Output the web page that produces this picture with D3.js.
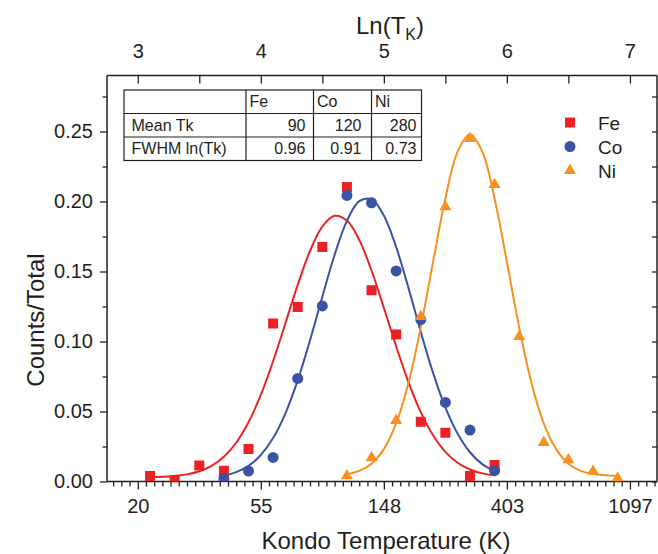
<!DOCTYPE html>
<html>
<head>
<meta charset="utf-8">
<script src="https://cdn.jsdelivr.net/npm/d3@7"></script>
<style>
  html, body { margin: 0; padding: 0; background: #fff; }
  svg { display: block; }
  text { font-family: "Liberation Sans", Arial, Helvetica, sans-serif; fill: #231f20; }
</style>
</head>
<body>
<svg id="chart" width="658" height="554"></svg>
<script>
// ---------- data ----------
const lnTicks = [3, 4, 5, 6, 7];
const tempTickLabels = ["20", "55", "148", "403", "1097"];
const yTickValues = [0, 0.05, 0.10, 0.15, 0.20, 0.25];

const seriesNames = ["Fe", "Co", "Ni"];
const seriesColors = ["#ed2024", "#3a53a4", "#f7901e"];

const feX = [3.1, 3.3, 3.5, 3.7, 3.9, 4.1, 4.3, 4.5, 4.7, 4.9, 5.1, 5.3, 5.5, 5.7, 5.9];
const feY = [0.004, 0.001, 0.0115, 0.0077, 0.0232, 0.1128, 0.1247, 0.1675, 0.2103, 0.1366, 0.105, 0.0427, 0.0348, 0.0039, 0.0118];

const coX = [3.7, 3.9, 4.1, 4.3, 4.5, 4.7, 4.9, 5.1, 5.3, 5.5, 5.7, 5.9];
const coY = [0.002, 0.0075, 0.0172, 0.0736, 0.1254, 0.2043, 0.1991, 0.1504, 0.1157, 0.0565, 0.0367, 0.0077];

const niX = [4.7, 4.9, 5.1, 5.3, 5.5, 5.7, 5.9, 6.1, 6.3, 6.5, 6.7, 6.9];
const niY = [0.004, 0.017, 0.0436, 0.1178, 0.1962, 0.2449, 0.2121, 0.1035, 0.0279, 0.0155, 0.0072, 0.0024];

// fitted curves
const feCurveX = [3.1,3.2,3.3,3.4,3.5,3.6,3.7,3.8,3.9,4.0,4.1,4.2,4.3,4.4,4.5,4.6,4.7,4.8,4.9,5.0,5.1,5.2,5.3,5.4,5.5,5.6,5.7,5.8,5.9];
const feCurveY = [0.0032,0.0034,0.0040,0.0051,0.0073,0.0112,0.0177,0.0277,0.0423,0.0618,0.0859,0.1130,0.1404,0.1647,0.1821,0.1898,0.1864,0.1726,0.1507,0.1241,0.0965,0.0710,0.0495,0.0330,0.0212,0.0134,0.0086,0.0058,0.0044];

const coCurveX = [3.7,3.8,3.9,4.0,4.1,4.2,4.3,4.4,4.5,4.6,4.7,4.8,4.9,5.0,5.1,5.2,5.3,5.4,5.5,5.6,5.7,5.8,5.9];
const coCurveY = [0.0042,0.0067,0.0112,0.0189,0.0310,0.0487,0.0722,0.1008,0.1320,0.1620,0.1862,0.2003,0.2016,0.1900,0.1675,0.1383,0.1069,0.0776,0.0529,0.0341,0.0209,0.0124,0.0074];

const niCurveX = [4.7,4.8,4.9,5.0,5.1,5.2,5.3,5.4,5.5,5.6,5.7,5.8,5.9,6.0,6.1,6.2,6.3,6.4,6.5,6.6,6.7,6.8,6.9];
const niCurveY = [0.0053,0.0076,0.0127,0.0231,0.0415,0.0704,0.1101,0.1568,0.2022,0.2356,0.2480,0.2356,0.2022,0.1568,0.1101,0.0704,0.0415,0.0231,0.0127,0.0076,0.0053,0.0045,0.0041];

const tableHeader = ["", "Fe", "Co", "Ni"];
const tableRowLabels = ["Mean Tk", "FWHM ln(Tk)"];
const tableMeanTk = ["90", "120", "280"];
const tableFwhm = ["0.96", "0.91", "0.73"];

// ---------- layout ----------
const W = 658, H = 554;
const pLeft = 107, pRight = 657, pTop = 75.5, pBottom = 481.5;
const ink = "#231f20";

const svg = d3.select("#chart");
svg.append("rect").attr("width", W).attr("height", H).attr("fill", "#fff");

const x = d3.scaleLinear().domain([2.75, 7.22]).range([pLeft, pRight]);
const y = d3.scaleLinear().domain([0, 0.29]).range([pBottom, pTop]);

svg.append("clipPath").attr("id", "plotclip").append("rect")
  .attr("x", pLeft).attr("y", pTop).attr("width", pRight - pLeft).attr("height", pBottom - pTop);

// ---------- axes ----------
function styleAxis(g) {
  g.selectAll(".domain").attr("stroke", ink).attr("stroke-width", 1.5);
  g.selectAll(".tick line").attr("stroke", ink).attr("stroke-width", 1.3);
  g.selectAll("text").attr("fill", ink).style("font-size", "20px")
    .style("font-family", '"Liberation Sans", Arial, sans-serif');
}

const minorB = d3.range(Math.ceil(2.75 * 15), Math.floor(7.22 * 15) + 1).map(v => v / 15)
  .filter(v => Math.abs(v - Math.round(v)) > 1e-6);
const minorTop = [3.5, 4.5, 5.5, 6.5];
const minorY = [0.025, 0.075, 0.125, 0.175, 0.225, 0.275];
const allY = [0, 0.025, 0.05, 0.075, 0.10, 0.125, 0.15, 0.175, 0.20, 0.225, 0.25, 0.275];

// bottom minor
svg.append("g").attr("transform", `translate(0,${pBottom})`)
  .call(d3.axisBottom(x).tickValues(minorB).tickSize(5).tickFormat(""))
  .call(styleAxis).call(g => g.select(".domain").remove());
// bottom major
svg.append("g").attr("transform", `translate(0,${pBottom})`)
  .call(d3.axisBottom(x).tickValues(lnTicks).tickSize(8).tickSizeOuter(0).tickPadding(9)
    .tickFormat((d, i) => tempTickLabels[i]))
  .call(styleAxis)
  .call(g => g.select(".domain").attr("d", `M${pLeft},0H${pRight}`));

// top axis
svg.append("g").attr("transform", `translate(0,${pTop})`)
  .call(d3.axisTop(x).tickValues(lnTicks.concat(minorTop)).tickSizeInner(-8).tickSizeOuter(0).tickPadding(18)
    .tickFormat(d => Number.isInteger(d) ? d : ""))
  .call(styleAxis)
  .call(g => g.select(".domain").attr("d", `M${pLeft},0H${pRight}`));

// left minor
svg.append("g").attr("transform", `translate(${pLeft},0)`)
  .call(d3.axisLeft(y).tickValues(minorY).tickSize(4.5).tickFormat(""))
  .call(styleAxis).call(g => g.select(".domain").remove());
// left major
svg.append("g").attr("transform", `translate(${pLeft},0)`)
  .call(d3.axisLeft(y).tickValues(yTickValues).tickSize(7).tickSizeOuter(0).tickPadding(7)
    .tickFormat(d3.format(".2f")))
  .call(styleAxis)
  .call(g => g.select(".domain").attr("d", `M0,${pBottom}V${pTop}`));

// right axis (inward ticks)
svg.append("g").attr("transform", `translate(${pRight},0)`)
  .call(d3.axisRight(y).tickValues(allY).tickSizeInner(-5).tickSizeOuter(0).tickFormat(""))
  .call(styleAxis)
  .call(g => g.select(".domain").attr("d", `M0,${pBottom}V${pTop}`));

// ---------- titles ----------
svg.append("text").attr("x", 386).attr("y", 549).attr("text-anchor", "middle")
  .style("font-size", "24px").text("Kondo Temperature (K)");

const tt = svg.append("text").attr("x", 390).attr("y", 34).attr("text-anchor", "middle")
  .style("font-size", "24px");
tt.append("tspan").text("Ln(T");
tt.append("tspan").attr("dy", 6).style("font-size", "16px").text("K");
tt.append("tspan").attr("dy", -6).text(")");

svg.append("text").attr("transform", "translate(44,320) rotate(-90)").attr("text-anchor", "middle")
  .style("font-size", "24px").text("Counts/Total");

// ---------- curves & points ----------
const plot = svg.append("g").attr("clip-path", "url(#plotclip)");
const line = d3.line().x(d => x(d[0])).y(d => y(d[1])).curve(d3.curveCatmullRom);

const curves = [
  d3.zip(feCurveX, feCurveY),
  d3.zip(coCurveX, coCurveY),
  d3.zip(niCurveX, niCurveY)
];
const points = [
  d3.zip(feX, feY),
  d3.zip(coX, coY),
  d3.zip(niX, niY)
];
const symbols = [
  d3.symbol().type(d3.symbolSquare).size(100),
  d3.symbol().type(d3.symbolCircle).size(95),
  d3.symbol().type(d3.symbolTriangle).size(62)
];

seriesNames.forEach((name, i) => {
  plot.append("path").datum(curves[i])
    .attr("d", line).attr("fill", "none")
    .attr("stroke", seriesColors[i]).attr("stroke-width", 2);
});
seriesNames.forEach((name, i) => {
  plot.append("g").selectAll("path").data(points[i]).join("path")
    .attr("transform", d => `translate(${x(d[0])},${y(d[1])})`)
    .attr("d", symbols[i]).attr("fill", seriesColors[i]);
});

// ---------- legend ----------
const legend = svg.append("g");
seriesNames.forEach((name, i) => {
  const cy = 122.5 + i * 24;
  legend.append("path").attr("transform", `translate(570,${cy})`)
    .attr("d", symbols[i]).attr("fill", seriesColors[i]);
  legend.append("text").attr("x", 598).attr("y", cy + 7).style("font-size", "19px").text(name);
});

// ---------- table ----------
const colX = [124, 246, 313.5, 371.5, 421.5];
const rowY = [90, 113.5, 137, 160.5];
const tbl = svg.append("g");
tbl.append("rect").attr("x", colX[0]).attr("y", rowY[0])
  .attr("width", colX[4] - colX[0]).attr("height", rowY[3] - rowY[0])
  .attr("fill", "#fff").attr("stroke", ink).attr("stroke-width", 1.2);
[1, 2].forEach(r => tbl.append("line").attr("x1", colX[0]).attr("x2", colX[4])
  .attr("y1", rowY[r]).attr("y2", rowY[r]).attr("stroke", ink).attr("stroke-width", 1.2));
[1, 2, 3].forEach(c => tbl.append("line").attr("x1", colX[c]).attr("x2", colX[c])
  .attr("y1", rowY[0]).attr("y2", rowY[3]).attr("stroke", ink).attr("stroke-width", 1.2));

const tfs = "16px";
tableHeader.forEach((h, c) => {
  if (!h) return;
  tbl.append("text").attr("x", colX[c] + 3.5).attr("y", rowY[0] + 17).style("font-size", tfs).text(h);
});
tableRowLabels.forEach((lab, r) => {
  tbl.append("text").attr("x", colX[0] + 7.5).attr("y", rowY[r + 1] + 17).style("font-size", tfs).text(lab);
});
const rightPad = [8, 10, 5];
[tableMeanTk, tableFwhm].forEach((row, r) => {
  row.forEach((v, c) => {
    tbl.append("text").attr("x", colX[c + 2] - rightPad[c]).attr("y", rowY[r + 1] + 17)
      .attr("text-anchor", "end").style("font-size", tfs).text(v);
  });
});
</script>
</body>
</html>
